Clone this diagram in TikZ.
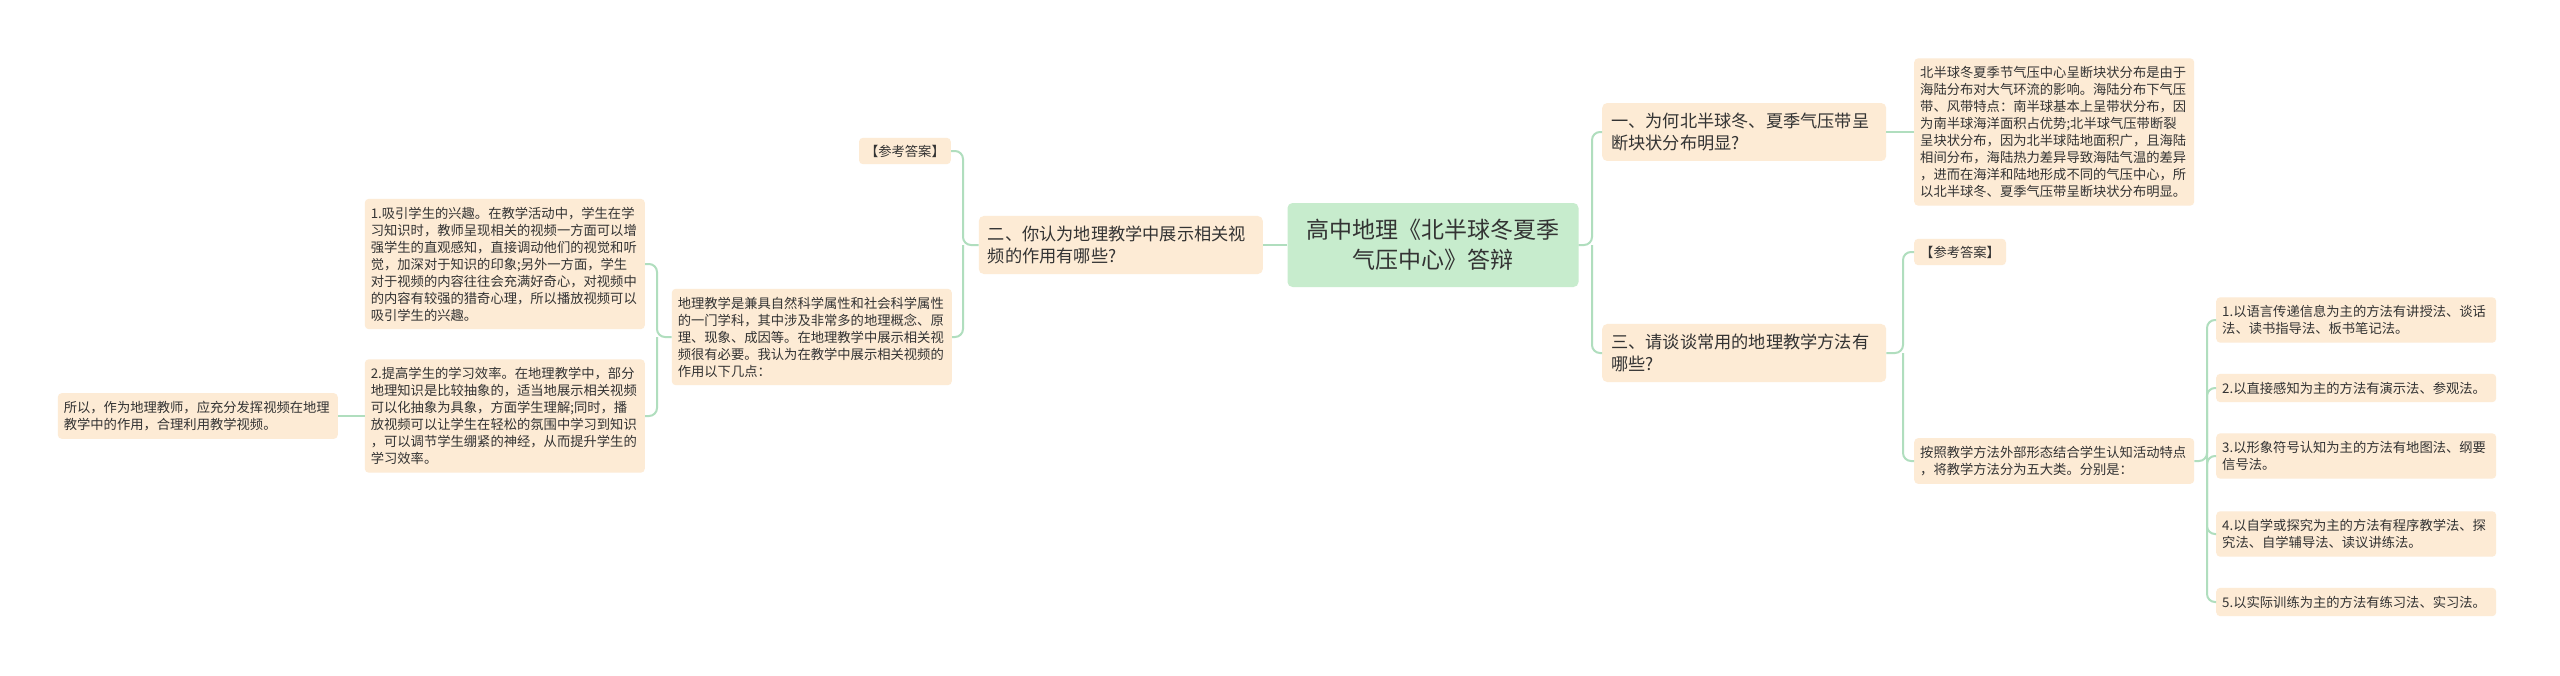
\documentclass[tikz,border=0pt]{standalone}
\usepackage{fontspec}
\setmainfont{Noto Sans CJK SC}
\usepackage{tikz}
\usetikzlibrary{shapes, positioning, backgrounds}
\definecolor{peach}{RGB}{253,235,213}
\definecolor{rootgreen}{RGB}{199,236,205}
\definecolor{linegreen}{RGB}{176,222,190}
\definecolor{textgray}{RGB}{51,51,51}
\tikzstyle{root} = [rectangle, rounded corners=5pt, fill=rootgreen, text=textgray, font=\fontsize{23}{30}\selectfont, align=center, minimum width=291pt, minimum height=84pt]
\tikzstyle{topic} = [rectangle, rounded corners=5pt, fill=peach, text=textgray, font=\fontsize{17.2}{22}\selectfont, align=left, text width=266pt, inner xsep=9pt, inner ysep=10pt]
\tikzstyle{leaf} = [rectangle, rounded corners=4pt, fill=peach, text=textgray, font=\fontsize{13.3}{17}\selectfont, align=left, text width=268pt, inner xsep=6pt, inner ysep=8pt]
\tikzstyle{tag} = [rectangle, rounded corners=4pt, fill=peach, text=textgray, font=\fontsize{13.3}{17}\selectfont, inner xsep=6pt, inner ysep=7pt]
\tikzstyle{link} = [draw=linegreen, line width=2pt, rounded corners=8pt]

\begin{document}
\begin{tikzpicture}[x=1pt, y=-1pt]

    \path[fill=white, use as bounding box] (0, 0) rectangle (2560, 675);

    \node (root) [root] at (1433, 245) {高中地理《北半球冬夏季\\气压中心》答辩};

    % right side
    \node (q1) [topic, anchor=west] at (1602, 132) {一、为何北半球冬、夏季气压带呈\\断块状分布明显?};
    \node (ans1) [leaf, anchor=west] at (1914, 132) {北半球冬夏季节气压中心呈断块状分布是由于\\海陆分布对大气环流的影响。海陆分布下气压\\带、风带特点：南半球基本上呈带状分布，因\\为南半球海洋面积占优势;北半球气压带断裂\\呈块状分布，因为北半球陆地面积广，且海陆\\相间分布，海陆热力差异导致海陆气温的差异\\，进而在海洋和陆地形成不同的气压中心，所\\以北半球冬、夏季气压带呈断块状分布明显。};
    \node (q3) [topic, anchor=west] at (1602, 353) {三、请谈谈常用的地理教学方法有\\哪些?};
    \node (ref2) [tag, anchor=west] at (1914, 252) {【参考答案】};
    \node (meth) [leaf, anchor=west] at (1914, 461) {按照教学方法外部形态结合学生认知活动特点\\，将教学方法分为五大类。分别是：};
    \node (m1) [leaf, anchor=west] at (2216, 320) {1.以语言传递信息为主的方法有讲授法、谈话\\法、读书指导法、板书笔记法。};
    \node (m2) [leaf, anchor=west] at (2216, 388) {2.以直接感知为主的方法有演示法、参观法。};
    \node (m3) [leaf, anchor=west] at (2216, 456) {3.以形象符号认知为主的方法有地图法、纲要\\信号法。};
    \node (m4) [leaf, anchor=west] at (2216, 534) {4.以自学或探究为主的方法有程序教学法、探\\究法、自学辅导法、读议讲练法。};
    \node (m5) [leaf, anchor=west] at (2216, 602) {5.以实际训练为主的方法有练习法、实习法。};

    % left side
    \node (q2) [topic, anchor=east] at (1263, 245) {二、你认为地理教学中展示相关视\\频的作用有哪些?};
    \node (ref1) [tag, anchor=east] at (951, 151) {【参考答案】};
    \node (geo) [leaf, anchor=east] at (952, 337) {地理教学是兼具自然科学属性和社会科学属性\\的一门学科，其中涉及非常多的地理概念、原\\理、现象、成因等。在地理教学中展示相关视\\频很有必要。我认为在教学中展示相关视频的\\作用以下几点：};
    \node (l1) [leaf, anchor=east] at (645, 264) {1.吸引学生的兴趣。在教学活动中，学生在学\\习知识时，教师呈现相关的视频一方面可以增\\强学生的直观感知，直接调动他们的视觉和听\\觉，加深对于知识的印象;另外一方面，学生\\对于视频的内容往往会充满好奇心，对视频中\\的内容有较强的猎奇心理，所以播放视频可以\\吸引学生的兴趣。};
    \node (l2) [leaf, anchor=east] at (645, 416) {2.提高学生的学习效率。在地理教学中，部分\\地理知识是比较抽象的，适当地展示相关视频\\可以化抽象为具象，方面学生理解;同时，播\\放视频可以让学生在轻松的氛围中学习到知识\\，可以调节学生绷紧的神经，从而提升学生的\\学习效率。};
    \node (con) [leaf, anchor=east] at (338, 416) {所以，作为地理教师，应充分发挥视频在地理\\教学中的作用，合理利用教学视频。};

    \coordinate (t0) at (1592, 245);
    \coordinate (t1) at (1903, 353);
    \coordinate (t2) at (2207, 461);
    \coordinate (t3) at (963, 245);
    \coordinate (t4) at (657, 337);

    \draw [link] (root.east) -- (t0) |- (q1.west);
    \draw [link] (t0) |- (q3.west);
    \draw [link] (q1.east) -- (ans1.west);
    \draw [link] (q3.east) -- (t1) |- (ref2.west);
    \draw [link] (t1) |- (meth.west);
    \draw [link] (meth.east) -- (t2) |- (m1.west);
    \draw [link] (t2) |- (m2.west);
    \draw [link] (t2) |- (m3.west);
    \draw [link] (t2) |- (m4.west);
    \draw [link] (t2) |- (m5.west);

    \draw [link] (root.west) -- (q2.east);
    \draw [link] (q2.west) -- (t3) |- (ref1.east);
    \draw [link] (t3) |- (geo.east);
    \draw [link] (geo.west) -- (t4) |- (l1.east);
    \draw [link] (t4) |- (l2.east);
    \draw [link] (l2.west) -- (con.east);

\end{tikzpicture}
\end{document}
